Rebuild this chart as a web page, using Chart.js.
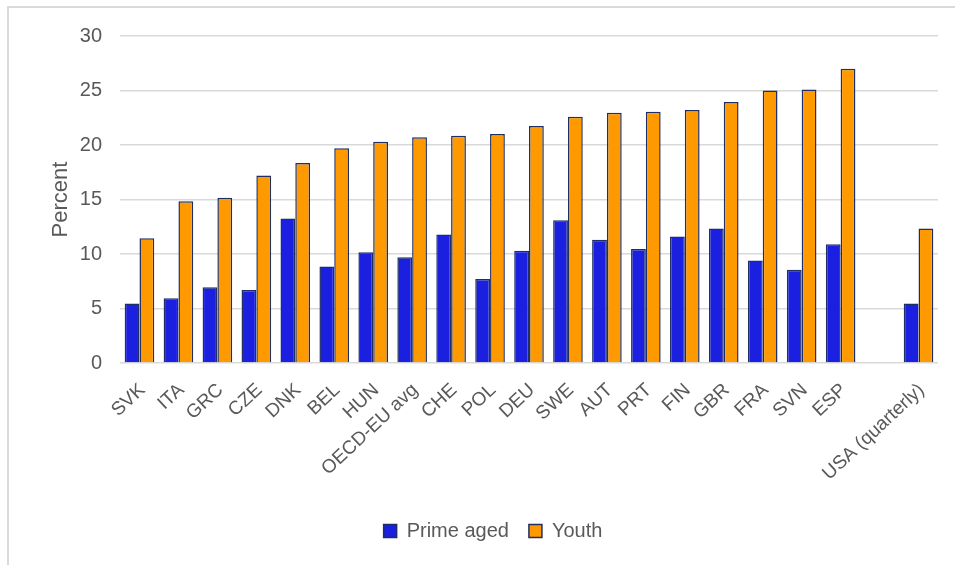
<!DOCTYPE html>
<html>
<head>
<meta charset="utf-8">
<script src="https://cdn.jsdelivr.net/npm/chart.js@4/dist/chart.umd.min.js"></script>
<style>
  html, body { margin: 0; padding: 0; background: #ffffff; }
  #wrap { position: absolute; left: 0; top: 0; width: 955px; height: 565px; }
</style>
</head>
<body>
<div id="wrap"><canvas id="c" width="955" height="565"></canvas></div>
<script>
const categories = ["SVK","ITA","GRC","CZE","DNK","BEL","HUN","OECD-EU avg","CHE","POL","DEU","SWE","AUT","PRT","FIN","GBR","FRA","SVN","ESP","","USA (quarterly)"];
const primeAged = [5.45, 5.95, 6.95, 6.7, 13.25, 8.85, 10.15, 9.7, 11.8, 7.7, 10.3, 13.1, 11.3, 10.45, 11.6, 12.35, 9.4, 8.55, 10.9, null, 5.45];
const youth = [11.45, 14.85, 15.15, 17.2, 18.35, 19.7, 20.3, 20.7, 20.85, 21.0, 21.75, 22.6, 22.95, 23.05, 23.2, 23.95, 25.0, 25.1, 27.0, null, 12.35];
const yTicks = [0, 5, 10, 15, 20, 25, 30];

const frame = {
  id: 'frame',
  beforeDraw(chart) {
    const ctx = chart.ctx;
    ctx.save();
    ctx.strokeStyle = '#d9d9d9';
    ctx.lineWidth = 2;
    ctx.beginPath();
    ctx.moveTo(955, 7);
    ctx.lineTo(8, 7);
    ctx.lineTo(8, 565);
    ctx.stroke();
    ctx.restore();
  }
};

const txt = '#595959';
const fam = '"Liberation Sans", Arial, sans-serif';

new Chart(document.getElementById('c'), {
  type: 'bar',
  data: {
    labels: categories,
    datasets: [
      { label: 'Prime aged', data: primeAged, backgroundColor: '#1a1fe0', borderColor: '#1f2f66', borderWidth: 1.5, categoryPercentage: 0.76, barPercentage: 1.0 },
      { label: 'Youth', data: youth, backgroundColor: '#ff9900', borderColor: '#1f2f66', borderWidth: 1.5, categoryPercentage: 0.76, barPercentage: 1.0 }
    ]
  },
  plugins: [frame],
  options: {
    responsive: false,
    animation: false,
    layout: { padding: { left: 48, right: 17, top: 36, bottom: 14 } },
    plugins: {
      legend: {
        position: 'bottom',
        labels: { color: txt, font: { family: fam, size: 20 }, boxWidth: 13, boxHeight: 13, padding: 20 }
      },
      tooltip: { enabled: false },
      title: { display: false }
    },
    scales: {
      x: {
        grid: { display: false },
        border: { display: false },
        ticks: { color: txt, font: { family: fam, size: 19 }, autoSkip: false, maxRotation: 43, minRotation: 43, padding: 8, labelOffset: 3 },
        afterFit(scale) { scale.height = 138; }
      },
      y: {
        min: 0, max: 30,
        afterBuildTicks(scale) { scale.ticks = yTicks.map(v => ({ value: v })); },
        grid: { color: '#d9d9d9', lineWidth: 1.5, drawTicks: false },
        border: { display: false },
        ticks: { color: txt, font: { family: fam, size: 20 }, padding: 18 },
        title: { display: true, text: 'Percent', color: txt, font: { family: fam, size: 22 }, padding: { top: 0, bottom: 0 } },
        afterFit(scale) { scale.width = 72; }
      }
    }
  }
});
</script>
</body>
</html>
